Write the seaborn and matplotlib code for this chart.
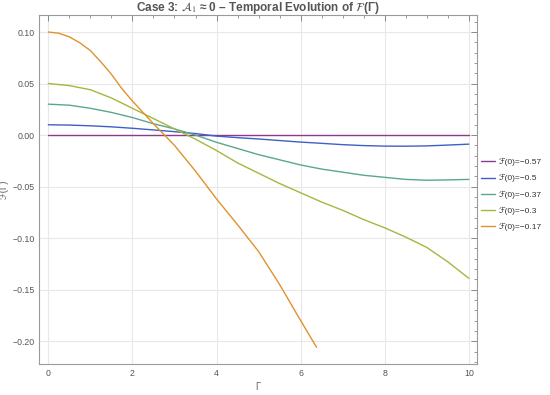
import numpy as np
import pandas as pd
import seaborn as sns
import matplotlib
matplotlib.use("Agg")
import matplotlib.pyplot as plt
from matplotlib.ticker import MultipleLocator

# ---- data ----
gamma = [0.0, 0.5, 1.0, 1.5, 2.0, 2.5, 3.0, 3.5, 4.0, 4.5, 5.0,
         5.5, 6.0, 6.5, 7.0, 7.5, 8.0, 8.5, 9.0, 9.5, 10.0]
gamma_orange = [0.0, 0.25, 0.5, 0.75, 1.0, 1.25, 1.5, 1.75, 2.0, 2.5, 3.0, 3.5,
                4.0, 4.5, 5.0, 5.5, 6.0, 6.38]

f_057 = [0.0] * 21
f_050 = [0.010, 0.0097, 0.009, 0.008, 0.0066, 0.005, 0.0033, 0.0015, -0.001, -0.0025,
         -0.0038, -0.0053, -0.0068, -0.008, -0.0093, -0.0102, -0.0107, -0.0108,
         -0.0105, -0.0097, -0.0088]
f_037 = [0.030, 0.029, 0.026, 0.022, 0.017, 0.011, 0.006, 0.000, -0.007, -0.013,
         -0.019, -0.024, -0.029, -0.033, -0.036, -0.039, -0.041, -0.043, -0.0438,
         -0.0435, -0.043]
f_030 = [0.050, 0.048, 0.044, 0.036, 0.026, 0.016, 0.006, -0.004, -0.015, -0.027,
         -0.037, -0.047, -0.056, -0.065, -0.073, -0.082, -0.090, -0.099, -0.109,
         -0.123, -0.139]
f_017 = [0.100, 0.0988, 0.0953, 0.0895, 0.082, 0.071, 0.059, 0.045, 0.033, 0.011,
         -0.010, -0.035, -0.062, -0.087, -0.113, -0.145, -0.180, -0.206]

labels = ["ℱ(0)=−0.57", "ℱ(0)=−0.5", "ℱ(0)=−0.37", "ℱ(0)=−0.3", "ℱ(0)=−0.17"]
colors = ["#8c3a8c", "#3f5fc8", "#5aa88a", "#a6b63e", "#e0922c"]

x_ticks = [0, 2, 4, 6, 8, 10]
y_ticks = [-0.20, -0.15, -0.10, -0.05, 0.00, 0.05, 0.10]
y_tick_labels = ["−0.20", "−0.15", "−0.10", "−0.05", "0.00", "0.05", "0.10"]

frames = []
for lab, xs, ys in zip(labels,
                       [gamma, gamma, gamma, gamma, gamma_orange],
                       [f_057, f_050, f_037, f_030, f_017]):
    frames.append(pd.DataFrame({"Gamma": xs, "F": ys, "series": lab}))
df = pd.concat(frames, ignore_index=True)

# ---- plotting ----
sns.set_theme(style="white")
plt.rcParams["font.family"] = ["Liberation Sans", "DejaVu Sans"]
plt.rcParams["mathtext.fontset"] = "stix"

fig = plt.figure(figsize=(5.5, 3.95), dpi=100)
ax = fig.add_axes([0.0715, 0.078, 0.7955, 0.884])

sns.lineplot(data=df, x="Gamma", y="F", hue="series", hue_order=labels,
             palette=dict(zip(labels, colors)), linewidth=1.0, ax=ax,
             sort=False, estimator=None)

ax.set_xlim(-0.214, 10.19)
ax.set_ylim(-0.2223, 0.1165)

ax.set_xticks(x_ticks)
ax.set_xticklabels([str(t) for t in x_ticks])
ax.set_yticks(y_ticks)
ax.set_yticklabels(y_tick_labels)
ax.xaxis.set_minor_locator(MultipleLocator(0.5))
ax.yaxis.set_minor_locator(MultipleLocator(0.01))

ax.grid(True, which="major", color="#e8e8e8", linewidth=0.8)
ax.set_axisbelow(True)

tick_col = "#8a8a8a"
ax.tick_params(which="both", direction="in", top=True, right=True,
               color=tick_col, labelcolor="#555555", labelsize=6.3)
ax.tick_params(which="major", length=4, width=0.7, pad=3.5)
ax.tick_params(which="minor", length=2.3, width=0.6)
for s in ax.spines.values():
    s.set_color("#9a9a9a")
    s.set_linewidth(0.8)

ax.set_xlabel("Γ", color="#666666", fontsize=7)
ax.xaxis.set_label_coords(0.5, -0.05)
ax.set_ylabel("ℱ(Γ)", color="#666666", fontsize=7)
ax.yaxis.set_label_coords(-0.07, 0.5)

ax.set_title(r"Case 3: $\mathcal{A}_1$ ≈ 0 – Temporal Evolution of $\mathcal{F}$(Γ)",
             color="#555555", fontsize=8.5, fontweight="bold", pad=3)

leg = ax.legend(loc="center left", bbox_to_anchor=(1.003, 0.486), frameon=False,
                fontsize=6.0, handlelength=1.6, handletextpad=0.5,
                labelspacing=0.95, borderaxespad=0.2, borderpad=0.2)
for t in leg.get_texts():
    t.set_color("#333333")
for h in leg.get_lines():
    h.set_linewidth(1.0)

fig.savefig("out.png", dpi=100)
